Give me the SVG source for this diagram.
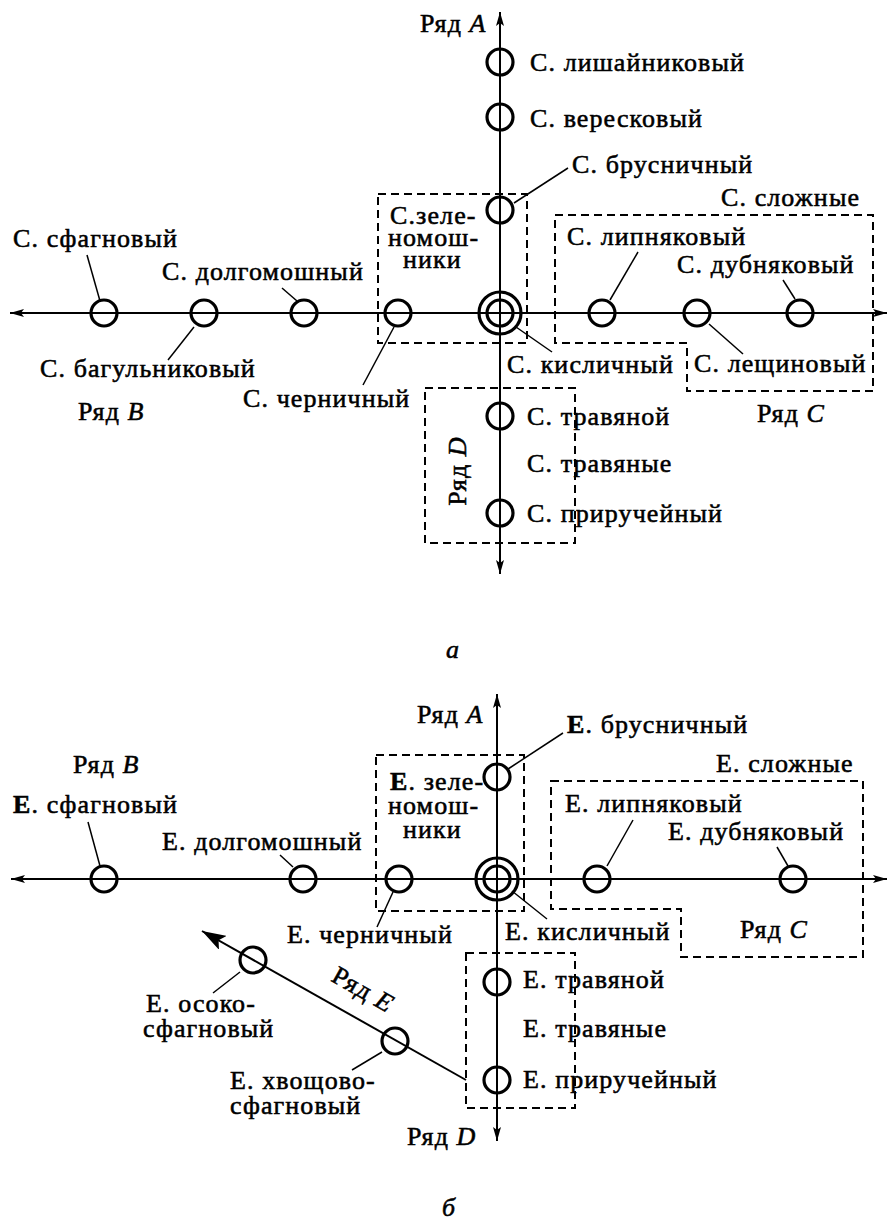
<svg xmlns="http://www.w3.org/2000/svg" width="890" height="1222" viewBox="0 0 890 1222">
<style>
.t{font-family:"Liberation Serif","Times New Roman",serif;font-size:26px;letter-spacing:1.1px;fill:#000;stroke:#000;stroke-width:0.55}
.i{font-style:italic}
.b{font-weight:bold}
.n{fill:none;stroke:#000;stroke-width:3.2}
.ax{fill:none;stroke:#000;stroke-width:2}
.ld{fill:none;stroke:#000;stroke-width:1.5}
.box{fill:none;stroke:#000;stroke-width:2;stroke-dasharray:8 5}
</style>
<defs>
<marker id="arr" viewBox="0 0 14 8" refX="14" refY="4" markerWidth="14" markerHeight="8" markerUnits="userSpaceOnUse" orient="auto">
<path d="M0,0 L14,4 L0,8 L3,4 Z" fill="#000"/>
</marker>
<marker id="arrE" viewBox="0 0 24 16" refX="24" refY="8" markerWidth="24" markerHeight="16" markerUnits="userSpaceOnUse" orient="auto">
<path d="M0,0 L24,8 L0,16 L5,8 Z" fill="#000"/>
</marker>
</defs>
<rect width="890" height="1222" fill="#fff"/>

<!-- ===== Diagram a ===== -->
<g id="a-connectors">
<line class="ax" x1="500" y1="550" x2="500" y2="12" marker-end="url(#arr)"/>
<line class="ax" x1="500" y1="420" x2="500" y2="574" marker-end="url(#arr)"/>
<line class="ax" x1="500" y1="313" x2="10" y2="313" marker-end="url(#arr)"/>
<line class="ax" x1="500" y1="313" x2="887" y2="313" marker-end="url(#arr)"/>
<line class="ld" x1="514" y1="203" x2="568" y2="168"/>
<line class="ld" x1="87" y1="255" x2="100" y2="301"/>
<line class="ld" x1="282" y1="288" x2="297" y2="301"/>
<line class="ld" x1="194" y1="327" x2="168" y2="360"/>
<line class="ld" x1="394" y1="327" x2="363" y2="385"/>
<line class="ld" x1="516" y1="327" x2="552" y2="352"/>
<line class="ld" x1="638" y1="252" x2="610" y2="300"/>
<line class="ld" x1="783" y1="280" x2="795" y2="299"/>
<line class="ld" x1="709" y1="324" x2="743" y2="354"/>
</g>

<g id="a-labels">
<text class="t" x="420" y="32">Ряд <tspan class="i">A</tspan></text>
<text class="t" x="78" y="420">Ряд <tspan class="i">B</tspan></text>
<text class="t" x="757" y="422">Ряд <tspan class="i">C</tspan></text>
<text class="t" transform="translate(466,471) rotate(-90)" text-anchor="middle">Ряд <tspan class="i">D</tspan></text>
<text class="t i" x="446" y="658">а</text>
</g>

<g id="a-lishay"><circle class="n" cx="500" cy="62" r="13"/><text class="t" x="530" y="71">С. лишайниковый</text></g>
<g id="a-veresk"><circle class="n" cx="500" cy="117" r="13"/><text class="t" x="530" y="127">С. вересковый</text></g>
<g id="a-brusn"><circle class="n" cx="500" cy="210" r="13"/><text class="t" x="572" y="173">С. брусничный</text></g>
<g id="a-zelen"><rect class="box" x="378" y="194" width="149" height="149"/>
<text class="t" x="390" y="224">С.зеле-</text><text class="t" x="388" y="246">номош-</text><text class="t" x="403" y="268">ники</text></g>
<g id="a-sfagn"><circle class="n" cx="104" cy="313" r="13"/><text class="t" x="13" y="247">С. сфагновый</text></g>
<g id="a-bagul"><circle class="n" cx="204" cy="313" r="13"/><text class="t" x="40" y="377">С. багульниковый</text></g>
<g id="a-dolgo"><circle class="n" cx="304" cy="313" r="13"/><text class="t" x="162" y="280">С. долгомошный</text></g>
<g id="a-chern"><circle class="n" cx="398" cy="313" r="13"/><text class="t" x="243" y="407">С. черничный</text></g>
<g id="a-kislich"><circle class="n" cx="500" cy="313" r="21"/><circle class="n" cx="500" cy="313" r="13"/><text class="t" x="507" y="373">С. кисличный</text></g>
<g id="a-slozh"><path class="box" d="M555,215 H873 V391 H687 V343 H555 Z"/><text class="t" x="721" y="206">С. сложные</text></g>
<g id="a-lipn"><circle class="n" cx="602" cy="313" r="13"/><text class="t" x="567" y="245">С. липняковый</text></g>
<g id="a-lesch"><circle class="n" cx="697" cy="313" r="13"/><text class="t" x="694" y="372">С. лещиновый</text></g>
<g id="a-dubn"><circle class="n" cx="800" cy="313" r="13"/><text class="t" x="677" y="273">С. дубняковый</text></g>
<g id="a-trav-group"><rect class="box" x="425" y="388" width="150" height="155"/><text class="t" x="527" y="472">С. травяные</text></g>
<g id="a-trav"><circle class="n" cx="500" cy="416" r="13"/><text class="t" x="527" y="425">С. травяной</text></g>
<g id="a-priruch"><circle class="n" cx="500" cy="513" r="13"/><text class="t" x="527" y="522">С. приручейный</text></g>

<!-- ===== Diagram b ===== -->
<g id="b-connectors">
<line class="ax" x1="497" y1="1000" x2="497" y2="694" marker-end="url(#arr)"/>
<line class="ax" x1="497" y1="900" x2="497" y2="1141" marker-end="url(#arr)"/>
<line class="ax" x1="497" y1="879" x2="11" y2="879" marker-end="url(#arr)"/>
<line class="ax" x1="497" y1="879" x2="887" y2="879" marker-end="url(#arr)"/>
<line class="ax" x1="466" y1="1080" x2="202" y2="931" marker-end="url(#arrE)"/>
<line class="ld" x1="508" y1="769" x2="563" y2="733"/>
<line class="ld" x1="88" y1="822" x2="100" y2="866"/>
<line class="ld" x1="280" y1="855" x2="293" y2="867"/>
<line class="ld" x1="393" y1="892" x2="377" y2="927"/>
<line class="ld" x1="512" y1="891" x2="547" y2="919"/>
<line class="ld" x1="633" y1="820" x2="607" y2="866"/>
<line class="ld" x1="777" y1="847" x2="788" y2="866"/>
<line class="ld" x1="240" y1="972" x2="213" y2="993"/>
<line class="ld" x1="382" y1="1052" x2="352" y2="1070"/>
</g>

<g id="b-labels">
<text class="t" x="417" y="723">Ряд <tspan class="i">A</tspan></text>
<text class="t" x="73" y="773">Ряд <tspan class="i">B</tspan></text>
<text class="t" x="740" y="938">Ряд <tspan class="i">C</tspan></text>
<text class="t" x="407" y="1145">Ряд <tspan class="i">D</tspan></text>
<text class="t" transform="translate(363,990) rotate(29.5)" text-anchor="middle" y="8">Ряд <tspan class="i">E</tspan></text>
<text class="t i" x="442" y="1216">б</text>
</g>

<g id="b-brusn"><circle class="n" cx="497" cy="777" r="13"/><text class="t" x="567" y="733"><tspan class="b">Е</tspan>. брусничный</text></g>
<g id="b-zelen"><rect class="box" x="376" y="755" width="148" height="156"/>
<text class="t" x="390" y="790"><tspan class="b">Е</tspan>. зеле-</text><text class="t" x="388" y="814">номош-</text><text class="t" x="403" y="838">ники</text></g>
<g id="b-sfagn"><circle class="n" cx="104" cy="879" r="13"/><text class="t" x="13" y="813"><tspan class="b">Е</tspan>. сфагновый</text></g>
<g id="b-dolgo"><circle class="n" cx="303" cy="879" r="13"/><text class="t" x="162" y="850">Е. долгомошный</text></g>
<g id="b-chern"><circle class="n" cx="399" cy="879" r="13"/><text class="t" x="287" y="943">Е. черничный</text></g>
<g id="b-kislich"><circle class="n" cx="497" cy="879" r="21"/><circle class="n" cx="497" cy="879" r="13"/><text class="t" x="505" y="940">Е. кисличный</text></g>
<g id="b-slozh"><path class="box" d="M551,781 H863 V957 H681 V909 H551 Z"/><text class="t" x="716" y="772">Е. сложные</text></g>
<g id="b-lipn"><circle class="n" cx="597" cy="879" r="13"/><text class="t" x="565" y="812">Е. липняковый</text></g>
<g id="b-dubn"><circle class="n" cx="793" cy="879" r="13"/><text class="t" x="668" y="840">Е. дубняковый</text></g>
<g id="b-trav-group"><rect class="box" x="466" y="953" width="109" height="155"/><text class="t" x="523" y="1037">Е. травяные</text></g>
<g id="b-trav"><circle class="n" cx="497" cy="982" r="13"/><text class="t" x="523" y="988">Е. травяной</text></g>
<g id="b-priruch"><circle class="n" cx="497" cy="1080" r="13"/><text class="t" x="523" y="1088">Е. приручейный</text></g>
<g id="b-osoko"><circle class="n" cx="253" cy="960" r="13"/><text class="t" x="146" y="1012">Е. осоко-</text><text class="t" x="143" y="1037">сфагновый</text></g>
<g id="b-khvosch"><circle class="n" cx="395" cy="1041" r="13"/><text class="t" x="230" y="1089">Е. хвощово-</text><text class="t" x="230" y="1114">сфагновый</text></g>
</svg>
